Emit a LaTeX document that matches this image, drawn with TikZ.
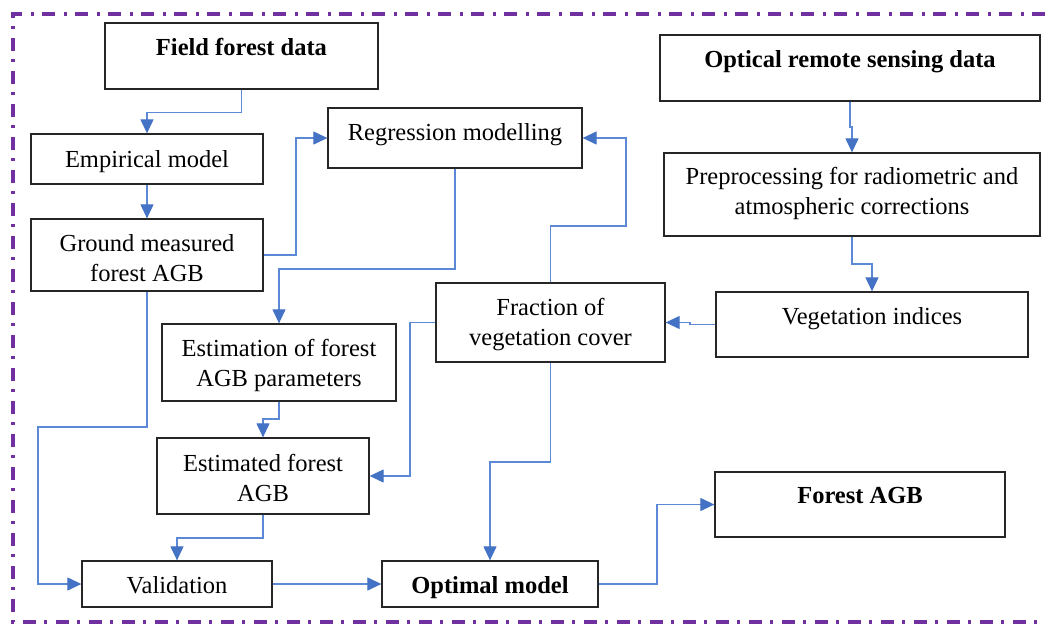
\documentclass[tikz,border=0pt]{standalone}
\usepackage{fontspec}
\setmainfont{Liberation Serif}
\usetikzlibrary{arrows.meta}
\definecolor{conncol}{RGB}{68,114,196}
\definecolor{linecol}{RGB}{91,137,214}
\definecolor{framecol}{RGB}{112,48,160}
\begin{document}
\begin{tikzpicture}[x=1pt,y=-1pt,
  box/.style={draw=black!85, line width=1.3pt, inner sep=0pt, rectangle},
  txt/.style={font=\fontsize{24.5}{30}\selectfont, align=center, inner sep=0pt},
  conn/.style={draw=linecol, line width=1.2pt, -{Triangle[length=14pt,width=13pt,color=conncol]}},
  frame/.style={draw=framecol, line width=3.2pt, dash pattern=on 13pt off 8pt on 3pt off 9pt}]
\useasboundingbox (0,0) rectangle (1045,625);
\draw[frame] (1045,14) -- (13,14) -- (13,622) -- (1045,622);

% boxes (center, size)
\node[box, minimum width=273, minimum height=66] (fd) at (241.5,56) {};
\node[txt, font=\fontsize{24.5}{30}\selectfont\bfseries] at (241.5,49) {\strut Field forest data};

\node[box, minimum width=232, minimum height=50] (em) at (147,159) {};
\node[txt] at (147,161) {\strut Empirical model};

\node[box, minimum width=254, minimum height=60] (rg) at (455,138) {};
\node[txt] at (455,134) {\strut Regression modelling};

\node[box, minimum width=380, minimum height=66] (op) at (850,68) {};
\node[txt, font=\fontsize{24.5}{30}\selectfont\bfseries] at (850,61) {\strut Optical remote sensing data};

\node[box, minimum width=376, minimum height=83] (pp) at (852,194.5) {};
\node[txt] at (852,193.5) {\strut Preprocessing for radiometric and\\\strut atmospheric corrections};

\node[box, minimum width=232, minimum height=72] (gm) at (147,255) {};
\node[txt] at (147,260.5) {\strut Ground measured\\\strut forest AGB};

\node[box, minimum width=234, minimum height=77] (es) at (279,362.5) {};
\node[txt] at (279,365) {\strut Estimation of forest\\\strut AGB parameters};

\node[box, minimum width=229, minimum height=79] (fr) at (550.5,322.5) {};
\node[txt] at (550.5,324) {\strut Fraction of\\\strut vegetation cover};

\node[box, minimum width=312, minimum height=65] (vi) at (872,324.5) {};
\node[txt] at (872,318) {\strut Vegetation indices};

\node[box, minimum width=212, minimum height=76] (ef) at (263,476) {};
\node[txt] at (263,480) {\strut Estimated forest\\\strut AGB};

\node[box, minimum width=190, minimum height=46] (va) at (177,584) {};
\node[txt] at (177,587) {\strut Validation};

\node[box, minimum width=216, minimum height=46] (om) at (490,584) {};
\node[txt, font=\fontsize{24.5}{30}\selectfont\bfseries] at (490,587) {\strut Optimal model};

\node[box, minimum width=290, minimum height=65] (fa) at (860,504.5) {};
\node[txt, font=\fontsize{24.5}{30}\selectfont\bfseries] at (860,497) {\strut Forest AGB};

% connectors
\draw[conn] (fd.south) -- ++(0,23) -| (em.north);
\draw[conn] (em.south) -- (gm.north);
\draw[conn] (gm.east) -- (296,255) |- (rg.west);
\draw[conn] (rg.south) |- (279,269) -- (es.north);
\draw[conn] (es.south) |- (263,419) -- (ef.north);
\draw[conn] (gm.south) |- (38,427) |- (va.west);
\draw[conn] (ef.south) |- (177,538) -- (va.north);
\draw[conn] (va.east) -- (om.west);
\draw[conn] (om.east) -- (657,584) |- (fa.west);
\draw[conn] (fr.south) |- (490,462) -- (om.north);
\draw[conn] (fr.west) -- (410,322.5) |- (ef.east);
\draw[conn] (fr.north) |- (626,226) |- (rg.east);
\draw[conn] (op.south) |- (852,127) -- (pp.north);
\draw[conn] (pp.south) |- (872,264) -- (vi.north);
\draw[conn] (vi.west) -- (690,324.5) |- (fr.east);
\end{tikzpicture}
\end{document}
